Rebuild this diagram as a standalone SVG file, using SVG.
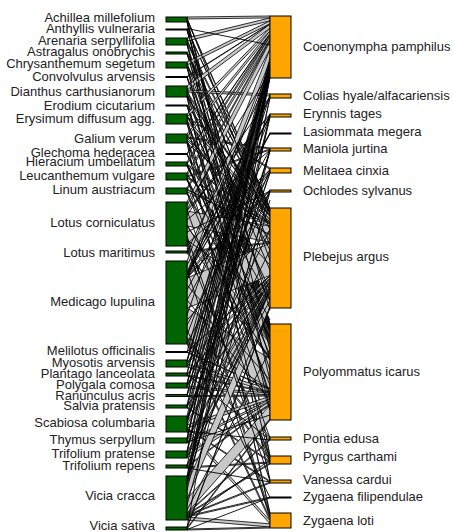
<svg xmlns="http://www.w3.org/2000/svg" width="453" height="532" viewBox="0 0 453 532">
<style>
.k{fill:#c8c8c8;stroke:#000;stroke-width:0.8;stroke-linejoin:round}
.t{fill:none;stroke:#000;stroke-width:0.9}
.lb{fill:#006400;stroke:#000;stroke-width:1}
.rb{fill:#ffa500;stroke:#000;stroke-width:1}
text{font-family:"Liberation Sans",Arial,sans-serif;font-size:13px;fill:#222}
.l{text-anchor:end}
</style>
<rect width="453" height="532" fill="#fff"/>
<g id="links">
<polygon class="k" points="187,17 270,16 270,17.9 187,19"/>
<polygon class="k" points="187,19 270,208 270,209.1 187,20"/>
<polygon class="k" points="187,20 270,324 270,325 187,21"/>
<polygon class="k" points="187,21 270,456 270,457 187,22"/>
<polygon class="k" points="187,29 270,209.1 270,209.6 187,29.5"/>
<polygon class="k" points="187,29.5 270,325 270,325.5 187,30"/>
<polygon class="k" points="187,38 270,17.9 270,20.8 187,41"/>
<polygon class="k" points="187,41 270,209.6 270,211.7 187,43"/>
<polygon class="k" points="187,43 270,325.5 270,327.5 187,45"/>
<polygon class="k" points="187,52 270,211.7 270,212.8 187,53"/>
<polygon class="k" points="187,53 270,327.5 270,328.5 187,54"/>
<polygon class="k" points="187,62 270,20.8 270,23.8 187,65"/>
<polygon class="k" points="187,65 270,212.8 270,213.9 187,66"/>
<polygon class="k" points="187,66 270,328.5 270,330.5 187,68"/>
<polygon class="k" points="187,76.5 270,23.8 270,24.2 187,77"/>
<polygon class="k" points="187,77 270,330.5 270,331 187,77.5"/>
<polygon class="k" points="187,86 270,24.2 270,28.1 187,90"/>
<polygon class="k" points="187,90 270,94 270,96 187,92"/>
<polygon class="k" points="187,92 270,213.9 270,216 187,94"/>
<polygon class="k" points="187,94 270,331 270,333 187,96"/>
<polygon class="k" points="187,96 270,480 270,481 187,97"/>
<polygon class="k" points="187,105 270,216 270,216.6 187,105.5"/>
<polygon class="k" points="187,105.5 270,333 270,333.5 187,106"/>
<polygon class="k" points="187,114 270,28.1 270,31 187,117"/>
<polygon class="k" points="187,117 270,168 270,169.3 187,118"/>
<polygon class="k" points="187,118 270,216.6 270,219.8 187,121"/>
<polygon class="k" points="187,121 270,333.5 270,336.5 187,124"/>
<polygon class="k" points="187,134 270,31 270,33.9 187,137"/>
<polygon class="k" points="187,137 270,148 270,149 187,138"/>
<polygon class="k" points="187,138 270,219.8 270,221.9 187,140"/>
<polygon class="k" points="187,140 270,336.5 270,338.5 187,142"/>
<polygon class="k" points="187,142 270,513 270,514.1 187,143"/>
<polygon class="k" points="187,153.5 270,33.9 270,34.4 187,154"/>
<polygon class="k" points="187,154 270,338.5 270,339 187,154.5"/>
<polygon class="k" points="187,162 270,34.4 270,36.3 187,164"/>
<polygon class="k" points="187,164 270,221.9 270,223 187,165"/>
<polygon class="k" points="187,165 270,339 270,340 187,166"/>
<polygon class="k" points="187,173 270,36.3 270,39.3 187,176"/>
<polygon class="k" points="187,176 270,149 270,150 187,177"/>
<polygon class="k" points="187,177 270,223 270,224 187,178"/>
<polygon class="k" points="187,178 270,340 270,342 187,180"/>
<polygon class="k" points="187,188 270,39.3 270,41.2 187,190"/>
<polygon class="k" points="187,190 270,224 270,226.2 187,192"/>
<polygon class="k" points="187,192 270,342 270,344 187,194"/>
<polygon class="k" points="187,202 270,41.2 270,48.9 187,210"/>
<polygon class="k" points="187,210 270,114 270,115 187,211"/>
<polygon class="k" points="187,211 270,226.2 270,242.2 187,226"/>
<polygon class="k" points="187,226 270,344 270,357.8 187,240"/>
<polygon class="k" points="187,240 270,457 270,459 187,242"/>
<polygon class="k" points="187,242 270,514.1 270,518.4 187,246"/>
<polygon class="k" points="187,251 270,242.2 270,243.3 187,252"/>
<polygon class="k" points="187,252 270,357.8 270,358.8 187,253"/>
<polygon class="k" points="187,261 270,48.9 270,60.6 187,273"/>
<polygon class="k" points="187,273 270,96 270,97 187,274"/>
<polygon class="k" points="187,274 270,115 270,116 187,275"/>
<polygon class="k" points="187,275 270,133 270,134 187,275.5"/>
<polygon class="k" points="187,275.5 270,169.3 270,171.8 187,277.5"/>
<polygon class="k" points="187,277.5 270,190 270,190.7 187,278"/>
<polygon class="k" points="187,278 270,243.3 270,275.4 187,308"/>
<polygon class="k" points="187,308 270,358.8 270,388.7 187,338"/>
<polygon class="k" points="187,338 270,437 270,439 187,340"/>
<polygon class="k" points="187,340 270,459 270,461 187,342"/>
<polygon class="k" points="187,342 270,518.4 270,520.6 187,344"/>
<polygon class="k" points="187,351.5 270,275.4 270,275.9 187,352"/>
<polygon class="k" points="187,352 270,388.7 270,389.2 187,352.5"/>
<polygon class="k" points="187,360 270,60.6 270,62.5 187,362"/>
<polygon class="k" points="187,362 270,275.9 270,278.1 187,364"/>
<polygon class="k" points="187,364 270,389.2 270,392.1 187,367"/>
<polygon class="k" points="187,373 270,62.5 270,63.5 187,374"/>
<polygon class="k" points="187,374 270,278.1 270,279.1 187,375"/>
<polygon class="k" points="187,375 270,392.1 270,393.1 187,376"/>
<polygon class="k" points="187,383 270,63.5 270,64.4 187,384"/>
<polygon class="k" points="187,384 270,279.1 270,281.3 187,386"/>
<polygon class="k" points="187,386 270,393.1 270,395.1 187,388"/>
<polygon class="k" points="187,394.5 270,64.4 270,65.4 187,395.5"/>
<polygon class="k" points="187,395.5 270,395.1 270,396.1 187,396.5"/>
<polygon class="k" points="187,405 270,65.4 270,66.4 187,406"/>
<polygon class="k" points="187,406 270,281.3 270,282.3 187,407"/>
<polygon class="k" points="187,407 270,461 270,462 187,408"/>
<polygon class="k" points="187,416 270,66.4 270,70.3 187,420"/>
<polygon class="k" points="187,420 270,150 270,151 187,421"/>
<polygon class="k" points="187,421 270,171.8 270,173 187,422"/>
<polygon class="k" points="187,422 270,282.3 270,285.5 187,425"/>
<polygon class="k" points="187,425 270,396.1 270,399.1 187,428"/>
<polygon class="k" points="187,428 270,481 270,482 187,429"/>
<polygon class="k" points="187,429 270,520.6 270,523.8 187,432"/>
<polygon class="k" points="187,438 270,70.3 270,71.2 187,439"/>
<polygon class="k" points="187,439 270,285.5 270,287.7 187,441"/>
<polygon class="k" points="187,441 270,399.1 270,401.1 187,443"/>
<polygon class="k" points="187,451 270,71.2 270,73.2 187,453"/>
<polygon class="k" points="187,453 270,287.7 270,289.8 187,455"/>
<polygon class="k" points="187,455 270,401.1 270,404.1 187,458"/>
<polygon class="k" points="187,465 270,289.8 270,290.9 187,466"/>
<polygon class="k" points="187,466 270,404.1 270,405.1 187,467"/>
<polygon class="k" points="187,467 270,462 270,463 187,468"/>
<polygon class="k" points="187,476 270,73.2 270,78 187,481"/>
<polygon class="k" points="187,481 270,97 270,98 187,482"/>
<polygon class="k" points="187,482 270,116 270,117 187,483"/>
<polygon class="k" points="187,483 270,190.7 270,192 187,484"/>
<polygon class="k" points="187,484 270,290.9 270,306.9 187,499"/>
<polygon class="k" points="187,499 270,405.1 270,419 187,513"/>
<polygon class="k" points="187,513 270,439 270,440 187,514"/>
<polygon class="k" points="187,514 270,463 270,464 187,515"/>
<polygon class="k" points="187,515 270,482 270,483 187,516"/>
<polygon class="k" points="187,516 270,497 270,498 187,517"/>
<polygon class="k" points="187,517 270,523.8 270,527 187,520"/>
<polygon class="k" points="187,527 270,306.9 270,308 187,528"/>
<polygon class="k" points="187,528 270,419 270,420 187,529"/>
<polygon class="k" points="187,529 270,527 270,528 187,530"/>
<path class="t" d="M187,18L270,230M187,20.5L270,350M187,39L270,260M187,44L270,380M187,53.5L270,245M187,63L270,300M187,67L270,410M187,77L270,270M187,88L270,360M187,95L270,250M187,105.5L270,400M187,115L270,290M187,120L270,370M187,123L270,460M187,135L270,240M187,141L270,395M187,154L270,300M187,163L270,355M187,175L270,265M187,179L270,410M187,189L270,235M187,193L270,385"/>
<path class="t" d="M187,205L270,72M187,215L270,96.5M187,220L270,150M187,232L270,191M187,244L270,170M187,252L270,76M187,265L270,115.5M187,280L270,65M187,290L270,133.5M187,300L270,149.5M187,315L270,75M187,325L270,172M187,335L270,116M187,343L270,191M187,352L270,58M187,361L270,95M187,366L270,170M187,374L270,440M187,385L270,68M187,387L270,190.5M187,395L270,230M187,407L270,150.5M187,418L270,250M187,431L270,440M187,440L270,77M187,442L270,415M187,452L270,115M187,457L270,300M187,466L270,74M187,468L270,482M187,478L270,70M187,490L270,150M187,505L270,200M187,510L270,350M187,519L270,460M187,528L270,76M187,529.5L270,497.5"/>
<path class="t" d="M187,210.5L270,438M187,236L270,481M187,248L270,462M187,270L270,516M187,330L270,497.5M187,300L270,400M187,240L270,300M187,225L270,360M187,320L270,230M187,285L270,380M187,28.5L270,45M187,30L270,310M187,97L270,212M187,143L270,215M187,166L270,320M187,180L270,330"/>
</g>
<g id="achillea"><rect class="lb" x="166" y="17" width="21" height="5"/><text class="l" x="155" y="22">Achillea millefolium</text></g>
<g id="anthyllis"><rect class="lb" x="166" y="29" width="21" height="1"/><text class="l" x="155" y="33">Anthyllis vulneraria</text></g>
<g id="arenaria"><rect class="lb" x="166" y="38" width="21" height="7"/><text class="l" x="155" y="44.5">Arenaria serpyllifolia</text></g>
<g id="astragalus"><rect class="lb" x="166" y="52" width="21" height="2"/><text class="l" x="155" y="56">Astragalus onobrychis</text></g>
<g id="chrysanthemum"><rect class="lb" x="166" y="62" width="21" height="6"/><text class="l" x="155" y="68">Chrysanthemum segetum</text></g>
<g id="convolvulus"><rect class="lb" x="166" y="76.5" width="21" height="1"/><text class="l" x="155" y="80.5">Convolvulus arvensis</text></g>
<g id="dianthus"><rect class="lb" x="166" y="86" width="21" height="11"/><text class="l" x="155" y="95.5">Dianthus carthusianorum</text></g>
<g id="erodium"><rect class="lb" x="166" y="105" width="21" height="1"/><text class="l" x="155" y="110">Erodium cicutarium</text></g>
<g id="erysimum"><rect class="lb" x="166" y="114" width="21" height="10"/><text class="l" x="155" y="122.5">Erysimum diffusum agg.</text></g>
<g id="galium"><rect class="lb" x="166" y="134" width="21" height="9"/><text class="l" x="155" y="142.5">Galium verum</text></g>
<g id="glechoma"><rect class="lb" x="166" y="153.5" width="21" height="1"/><text class="l" x="155" y="156.5">Glechoma hederacea</text></g>
<g id="hieracium"><rect class="lb" x="166" y="162" width="21" height="4"/><text class="l" x="155" y="165.5">Hieracium umbellatum</text></g>
<g id="leucanthemum"><rect class="lb" x="166" y="173" width="21" height="7"/><text class="l" x="155" y="179.5">Leucanthemum vulgare</text></g>
<g id="linum"><rect class="lb" x="166" y="188" width="21" height="6"/><text class="l" x="155" y="194">Linum austriacum</text></g>
<g id="lotus-corniculatus"><rect class="lb" x="166" y="202" width="21" height="44"/><text class="l" x="155" y="227">Lotus corniculatus</text></g>
<g id="lotus-maritimus"><rect class="lb" x="166" y="251" width="21" height="2"/><text class="l" x="155" y="257">Lotus maritimus</text></g>
<g id="medicago"><rect class="lb" x="166" y="261" width="21" height="83"/><text class="l" x="155" y="306">Medicago lupulina</text></g>
<g id="melilotus"><rect class="lb" x="166" y="351.5" width="21" height="1"/><text class="l" x="155" y="355">Melilotus officinalis</text></g>
<g id="myosotis"><rect class="lb" x="166" y="360" width="21" height="7"/><text class="l" x="155" y="366.5">Myosotis arvensis</text></g>
<g id="plantago"><rect class="lb" x="166" y="373" width="21" height="3"/><text class="l" x="155" y="377.5">Plantago lanceolata</text></g>
<g id="polygala"><rect class="lb" x="166" y="383" width="21" height="5"/><text class="l" x="155" y="388.5">Polygala comosa</text></g>
<g id="ranunculus"><rect class="lb" x="166" y="394.5" width="21" height="2"/><text class="l" x="155" y="399.5">Ranunculus acris</text></g>
<g id="salvia"><rect class="lb" x="166" y="405" width="21" height="3"/><text class="l" x="155" y="410">Salvia pratensis</text></g>
<g id="scabiosa"><rect class="lb" x="166" y="416" width="21" height="16"/><text class="l" x="155" y="426.5">Scabiosa columbaria</text></g>
<g id="thymus"><rect class="lb" x="166" y="438" width="21" height="5"/><text class="l" x="155" y="444">Thymus serpyllum</text></g>
<g id="trifolium-pratense"><rect class="lb" x="166" y="451" width="21" height="7"/><text class="l" x="155" y="457.5">Trifolium pratense</text></g>
<g id="trifolium-repens"><rect class="lb" x="166" y="465" width="21" height="3"/><text class="l" x="155" y="470">Trifolium repens</text></g>
<g id="vicia-cracca"><rect class="lb" x="166" y="476" width="21" height="44"/><text class="l" x="155" y="500">Vicia cracca</text></g>
<g id="vicia-sativa"><rect class="lb" x="166" y="527" width="21" height="3"/><text class="l" x="155" y="530">Vicia sativa</text></g>
<g id="coenonympha"><rect class="rb" x="270" y="16" width="21" height="62"/><text x="303" y="51">Coenonympha pamphilus</text></g>
<g id="colias"><rect class="rb" x="270" y="94" width="21" height="4"/><text x="303" y="99.5">Colias hyale/alfacariensis</text></g>
<g id="erynnis"><rect class="rb" x="270" y="114" width="21" height="3"/><text x="303" y="117.5">Erynnis tages</text></g>
<g id="lasiommata"><rect class="rb" x="270" y="133" width="21" height="1"/><text x="303" y="135.5">Lasiommata megera</text></g>
<g id="maniola"><rect class="rb" x="270" y="148" width="21" height="3"/><text x="303" y="153">Maniola jurtina</text></g>
<g id="melitaea"><rect class="rb" x="270" y="168" width="21" height="5"/><text x="303" y="175">Melitaea cinxia</text></g>
<g id="ochlodes"><rect class="rb" x="270" y="190" width="21" height="2"/><text x="303" y="195">Ochlodes sylvanus</text></g>
<g id="plebejus"><rect class="rb" x="270" y="208" width="21" height="100"/><text x="303" y="261">Plebejus argus</text></g>
<g id="polyommatus"><rect class="rb" x="270" y="324" width="21" height="96"/><text x="303" y="376">Polyommatus icarus</text></g>
<g id="pontia"><rect class="rb" x="270" y="437" width="21" height="3"/><text x="303" y="442.5">Pontia edusa</text></g>
<g id="pyrgus"><rect class="rb" x="270" y="456" width="21" height="8"/><text x="303" y="461">Pyrgus carthami</text></g>
<g id="vanessa"><rect class="rb" x="270" y="480" width="21" height="3"/><text x="303" y="484">Vanessa cardui</text></g>
<g id="zygaena-filipendulae"><rect class="rb" x="270" y="497" width="21" height="1"/><text x="303" y="500.5">Zygaena filipendulae</text></g>
<g id="zygaena-loti"><rect class="rb" x="270" y="513" width="21" height="15"/><text x="303" y="525">Zygaena loti</text></g>
</svg>
